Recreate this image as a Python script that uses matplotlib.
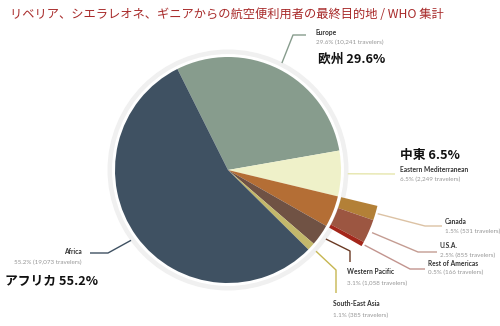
import numpy as np
import matplotlib.pyplot as plt

# --- data ---
regions = ['Europe', 'Eastern Mediterranean', 'Americas',
           'Western Pacific', 'South-East Asia', 'Africa']
travelers = [10241, 2249, 1552, 1058, 385, 19073]
region_colors = ['#879c8d', '#eff1c9', '#b46e35', '#705244', '#c3b86b', '#3f5162']

americas = ['Canada', 'U.S.A.', 'Rest of Americas']
americas_travelers = [531, 855, 166]
americas_colors = ['#b38037', '#9c5641', '#a3261a']

jp_names = {'Europe': '欧州', 'Eastern Mediterranean': '中東', 'Africa': 'アフリカ'}
title = 'リベリア、シエラレオネ、ギニアからの航空便利用者の最終目的地 / WHO 集計'

total = sum(travelers)
W, H = 500, 326
CX, CY, R = 228, H - 170, 113
START = 116.6

fig = plt.figure(figsize=(5, 3.26), dpi=100)
ax = fig.add_axes([0, 0, 1, 1])

def py(y):
    return H - y

# background ring
ax.add_patch(plt.Circle((CX, CY), R * 1.06, color='#f0f0f0', zorder=0))
ax.add_patch(plt.Circle((CX, CY), R * 1.02, color='white', zorder=0))

wedges, _ = ax.pie(travelers, colors=region_colors, startangle=START,
                   counterclock=False, radius=R, center=(CX, CY),
                   wedgeprops=dict(linewidth=0))

# exploded breakdown of the Americas slice
ring_vals = travelers[:2] + americas_travelers + travelers[3:]
ring_cols = ['none', 'none'] + americas_colors + ['none'] * 3
ring, _ = ax.pie(ring_vals, colors=ring_cols, startangle=START,
                 counterclock=False, radius=R * 1.36, center=(CX, CY),
                 wedgeprops=dict(width=R * 0.33, linewidth=0))

ax.set_xlim(0, W)
ax.set_ylim(0, H)
ax.set_aspect('equal')
ax.axis('off')

def edge_point(w, rr):
    a = np.deg2rad((w.theta1 + w.theta2) / 2)
    return CX + rr * np.cos(a), CY + rr * np.sin(a)

def pct(v):
    return '%.1f%% (%s travelers)' % (100 * v / total, format(v, ','))

def leader(w, rr, path, color):
    x0, y0 = edge_point(w, rr)
    xs = [x0] + [p[0] for p in path]
    ys = [y0] + [py(p[1]) for p in path]
    ax.plot(xs, ys, color=color, lw=1.0, solid_capstyle='butt', zorder=3)

def label(x, y, name, v, ha='left', dy=10.5):
    ax.text(x, py(y), name, ha=ha, va='center', color='#333333',
            fontweight='bold', family='Lato', fontsize=4.8)
    ax.text(x, py(y + dy), pct(v), ha=ha, va='center', color='#969696',
            family='Lato', fontsize=4.5)

big = dict(family=['Noto Sans CJK JP', 'DejaVu Sans'], fontsize=9.2,
           fontweight='bold', color='#111111', va='center')

# Europe
leader(wedges[0], R * 1.06, [(293, 35), (306, 35)], '#879c8d')
label(316, 32, regions[0], travelers[0])
ax.text(318, py(59), '%s %.1f%%' % (jp_names['Europe'], 100 * travelers[0] / total), **big)

# Eastern Mediterranean
leader(wedges[1], R * 1.06, [(395, 174)], '#e6e6ad')
label(400, 169, regions[1], travelers[1])
ax.text(400, py(156), '%s %.1f%%' % (jp_names['Eastern Mediterranean'], 100 * travelers[1] / total), **big)

# Americas breakdown
leader(ring[2], R * 1.38, [(425, 226), (442, 226)], '#dcc2a4')
label(445, 222, americas[0], americas_travelers[0], dy=9.5)
leader(ring[3], R * 1.39, [(418, 252), (437, 252)], '#c49c92')
label(440, 246, americas[1], americas_travelers[1], dy=9)
leader(ring[4], R * 1.38, [(410, 269), (425, 269)], '#c2948e')
label(428, 264, americas[2], americas_travelers[2], dy=8.5)

# Western Pacific
leader(wedges[3], R * 1.06, [(350, 251), (350, 262)], '#6a3a24')
label(347, 272, regions[3], travelers[3], dy=11)

# South-East Asia
leader(wedges[4], R * 1.06, [(336, 270), (336, 293)], '#c6b651')
label(333, 304, regions[4], travelers[4], dy=11.5)

# Africa
leader(wedges[5], R * 1.06, [(108, 253), (90, 253)], '#3f5162')
label(82, 252, regions[5], travelers[5], ha='right', dy=10)
ax.text(5, py(281), '%s %.1f%%' % (jp_names['Africa'], 100 * travelers[5] / total), **big)

ax.text(10, py(14), title, ha='left', va='center', color='#a82a2a',
        family=['Noto Sans CJK JP', 'DejaVu Sans'], fontsize=8.8)

fig.savefig('out.png', dpi=100)
